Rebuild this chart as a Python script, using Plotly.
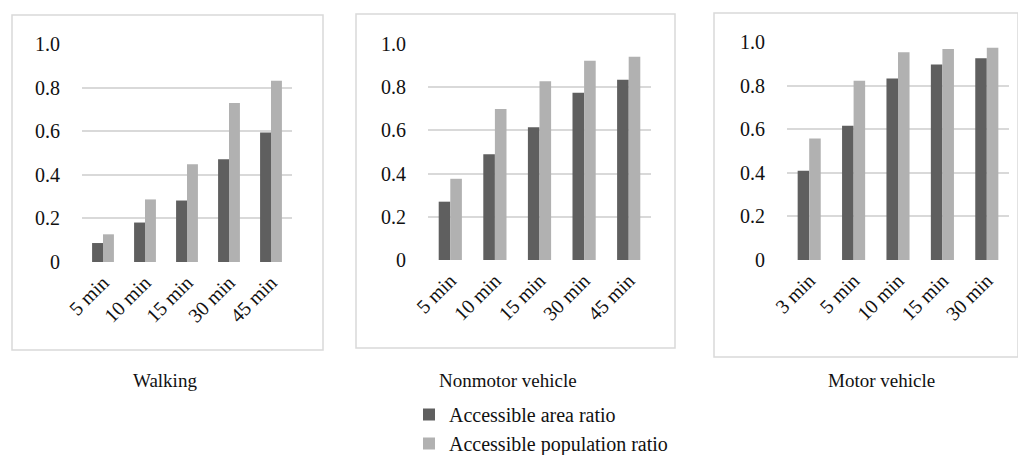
import plotly.graph_objects as go

# the page body adds an 8px margin; the figure is sized and placed to compensate
OFF = 8
W, H = 1026 - OFF, 455 - OFF

walk_cats = ["5 min", "10 min", "15 min", "30 min", "45 min"]
walk_area = [0.087, 0.181, 0.282, 0.471, 0.594]
walk_pop = [0.127, 0.287, 0.448, 0.729, 0.831]

nonmotor_cats = ["5 min", "10 min", "15 min", "30 min", "45 min"]
nonmotor_area = [0.270, 0.490, 0.615, 0.774, 0.835]
nonmotor_pop = [0.376, 0.699, 0.828, 0.923, 0.941]

motor_cats = ["3 min", "5 min", "10 min", "15 min", "30 min"]
motor_area = [0.409, 0.616, 0.833, 0.897, 0.926]
motor_pop = [0.557, 0.822, 0.953, 0.968, 0.974]

panel_titles = ["Walking", "Nonmotor vehicle", "Motor vehicle"]
series_names = ["Accessible area ratio", "Accessible population ratio"]
y_ticks = [0, 0.2, 0.4, 0.6, 0.8, 1.0]
y_tick_text = ["0", "0.2", "0.4", "0.6", "0.8", "1.0"]

DARK = "#5f5f5f"
LIGHT = "#b1b1b1"
GRID = "#d9d9d9"
FONT = "Liberation Serif"
TXT = "#111111"

panels = [
    (walk_cats, walk_area, walk_pop),
    (nonmotor_cats, nonmotor_area, nonmotor_pop),
    (motor_cats, motor_area, motor_pop),
]

# window-pixel geometry: (x0, x1, ybottom, ytop) of plot areas, and boxes
plot_px = [(82, 292, 262, 44), (428, 651, 260, 44), (787, 1009, 260, 42)]
box_px = [(12, 323, 15, 350), (356, 675, 14, 348), (714, 1018, 13, 357)]
title_px = [(165, 380), (508, 380), (881, 380)]


def px(x):
    return (x - OFF) / W


def py(y):
    return 1 - (y - OFF) / H


fig = go.Figure()
for i, (cats, area, pop) in enumerate(panels):
    xa = "x" if i == 0 else f"x{i+1}"
    ya = "y" if i == 0 else f"y{i+1}"
    fig.add_trace(go.Bar(x=cats, y=area, name=series_names[0], marker_color=DARK,
                         marker_line_width=0, xaxis=xa, yaxis=ya,
                         showlegend=(i == 0), legendgroup="a"))
    fig.add_trace(go.Bar(x=cats, y=pop, name=series_names[1], marker_color=LIGHT,
                         marker_line_width=0, xaxis=xa, yaxis=ya,
                         showlegend=(i == 0), legendgroup="b"))

layout = dict(
    template="none",
    width=W, height=H,
    margin=dict(l=0, r=0, t=0, b=0, autoexpand=False),
    paper_bgcolor="white", plot_bgcolor="white",
    barmode="group", bargap=0.48, bargroupgap=0,
    font=dict(family=FONT, color=TXT),
    showlegend=True,
    legend=dict(x=px(409), y=py(395), xanchor="left", yanchor="top",
                font=dict(family=FONT, size=20, color=TXT),
                tracegroupgap=0, itemwidth=30, bgcolor="rgba(0,0,0,0)",
                borderwidth=0),
)
shapes = []
annotations = []
for i in range(3):
    x0, x1, yb, yt = plot_px[i]
    key = "" if i == 0 else str(i + 1)
    layout["xaxis" + key] = dict(
        domain=[px(x0), px(x1)], anchor="y" + key, automargin=False,
        tickangle=-45, tickfont=dict(family=FONT, size=20, color=TXT),
        showgrid=False, zeroline=False, showline=False, ticks="",
        ticklabelstandoff=4, fixedrange=True,
    )
    layout["yaxis" + key] = dict(
        domain=[py(yb), py(yt)], anchor="x" + key, automargin=False,
        range=[0, 1.0], tickvals=y_ticks, ticktext=y_tick_text,
        tickfont=dict(family=FONT, size=20, color=TXT),
        showgrid=True, gridcolor=GRID, gridwidth=1.5,
        zeroline=False, showline=False, ticks="",
        ticklabelstandoff=21, fixedrange=True,
    )
    bx0, bx1, by0, by1 = box_px[i]
    shapes.append(dict(type="rect", xref="paper", yref="paper",
                       x0=px(bx0), x1=px(bx1), y0=py(by1), y1=py(by0),
                       line=dict(color=GRID, width=1.5), layer="below"))
    tx, ty = title_px[i]
    annotations.append(dict(text=panel_titles[i], xref="paper", yref="paper",
                            x=px(tx), y=py(ty), xanchor="center", yanchor="middle",
                            showarrow=False, font=dict(family=FONT, size=19, color=TXT)))
layout["shapes"] = shapes
layout["annotations"] = annotations
fig.update_layout(**layout)
fig.write_html("out.html")
